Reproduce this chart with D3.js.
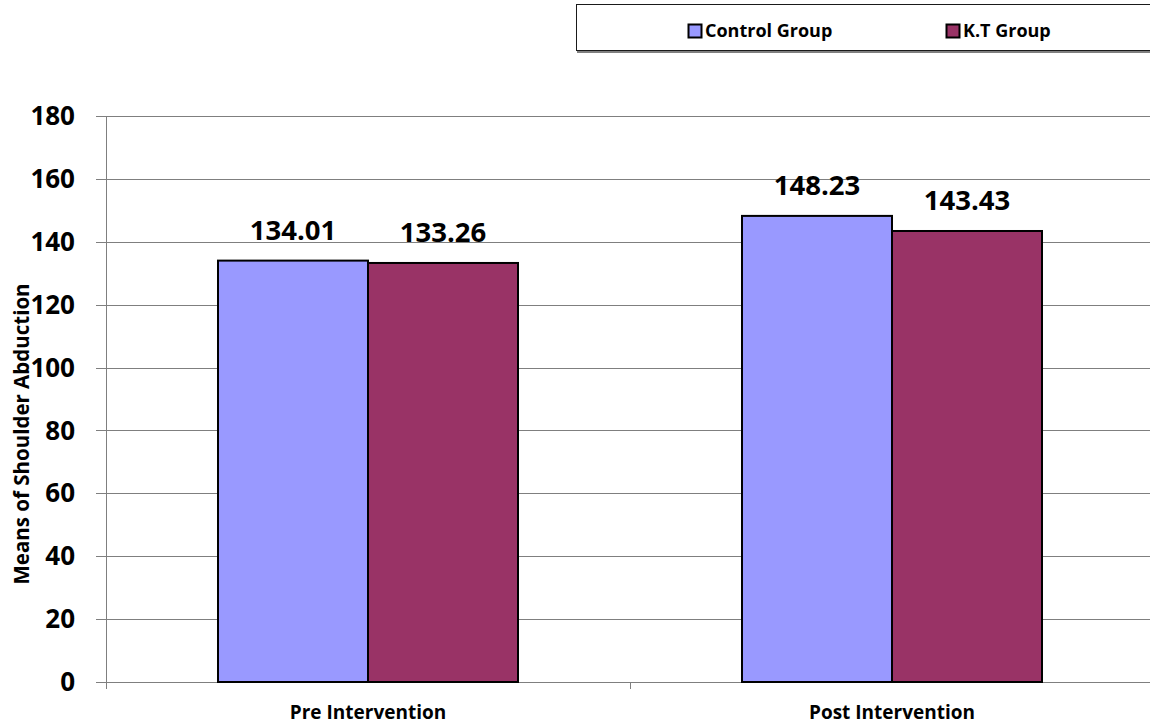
<!DOCTYPE html>
<html>
<head>
<meta charset="utf-8">
<script src="https://cdn.jsdelivr.net/npm/d3@7/dist/d3.min.js"></script>
<style>
  html, body { margin: 0; padding: 0; background: #fff; }
  svg { display: block; font-family: "Open Sans", "DejaVu Sans", sans-serif; }
</style>
</head>
<body>
<svg id="chart" width="1150" height="724"></svg>
<script>
// Data
const categories = ["Pre Intervention", "Post Intervention"];
const seriesNames = ["Control Group", "K.T Group"];
const controlValues = [134.01, 148.23];
const ktValues = [133.26, 143.43];
const yTicks = [0, 20, 40, 60, 80, 100, 120, 140, 160, 180];
const seriesColors = ["#9999FF", "#993366"];
const yTitle = "Means of Shoulder Abduction";

const svg = d3.select("#chart");

const plot = { left: 106, right: 1154, top: 116, bottom: 682 };

const x = d3.scaleBand().domain(categories).range([plot.left, plot.right]).paddingInner(0).paddingOuter(0);
const y = d3.scaleLinear().domain([0, 180]).range([plot.bottom, plot.top]);
const xSeries = d3.scaleBand().domain(seriesNames).range([0, 300]);

// Gridlines
svg.append("g")
  .selectAll("line")
  .data(yTicks)
  .join("line")
  .attr("x1", plot.left - 10)
  .attr("x2", 1150)
  .attr("y1", d => Math.round(y(d)) + 0.5)
  .attr("y2", d => Math.round(y(d)) + 0.5)
  .attr("stroke", "#7f7f7f")
  .attr("stroke-width", 1);

// Y axis line
svg.append("line")
  .attr("x1", plot.left + 0.5).attr("x2", plot.left + 0.5)
  .attr("y1", plot.top).attr("y2", plot.bottom + 7)
  .attr("stroke", "#7f7f7f").attr("stroke-width", 1);

// Category tick marks
svg.append("g")
  .selectAll("line")
  .data(categories.slice(1))
  .join("line")
  .attr("x1", d => Math.round(x(d)) + 0.5)
  .attr("x2", d => Math.round(x(d)) + 0.5)
  .attr("y1", plot.bottom)
  .attr("y2", plot.bottom + 7)
  .attr("stroke", "#7f7f7f");

// Y tick labels
svg.append("g")
  .selectAll("text")
  .data(yTicks)
  .join("text")
  .attr("x", 75)
  .attr("y", d => y(d))
  .attr("dy", "0.35em")
  .attr("text-anchor", "end")
  .attr("font-size", 26)
  .attr("font-weight", "bold")
  .attr("fill", "#000")
  .text(d => d);

// Bars
const rows = categories.map((c, i) => ({ cat: c, vals: [controlValues[i], ktValues[i]] }));
const groups = svg.append("g")
  .selectAll("g")
  .data(rows)
  .join("g")
  .attr("transform", d => `translate(${x(d.cat) + x.bandwidth() / 2 - 150},0)`);

groups.selectAll("rect")
  .data(d => d.vals.map((v, j) => ({ name: seriesNames[j], v, j })))
  .join("rect")
  .attr("x", d => xSeries(d.name))
  .attr("width", xSeries.bandwidth())
  .attr("y", d => y(d.v))
  .attr("height", d => y(0) - y(d.v))
  .attr("fill", d => seriesColors[d.j])
  .attr("stroke", "#000")
  .attr("stroke-width", 2);

// Value labels
groups.selectAll("text")
  .data(d => d.vals.map((v, j) => ({ name: seriesNames[j], v, j })))
  .join("text")
  .attr("x", d => xSeries(d.name) + xSeries.bandwidth() / 2)
  .attr("y", d => y(d.v) - 21)
  .attr("text-anchor", "middle")
  .attr("font-size", 27.5)
  .attr("font-weight", "bold")
  .attr("fill", "#000")
  .text(d => d.v.toFixed(2));

// Category labels
svg.append("g")
  .selectAll("text")
  .data(categories)
  .join("text")
  .attr("x", d => x(d) + x.bandwidth() / 2)
  .attr("y", 719)
  .attr("text-anchor", "middle")
  .attr("font-size", 19)
  .attr("font-weight", "bold")
  .attr("fill", "#000")
  .text(d => d);

// Y axis title
svg.append("text")
  .attr("transform", "translate(29,434) rotate(-90)")
  .attr("text-anchor", "middle")
  .attr("font-size", 20.5)
  .attr("font-weight", "bold")
  .attr("fill", "#000")
  .text(yTitle);

// Legend
const legend = svg.append("g");
legend.append("rect")
  .attr("x", 577).attr("y", 51)
  .attr("width", 580).attr("height", 2)
  .attr("fill", "#808080");
legend.append("rect")
  .attr("x", 576.5).attr("y", 4.5)
  .attr("width", 590).attr("height", 46)
  .attr("fill", "#fff")
  .attr("stroke", "#1a1a1a")
  .attr("stroke-width", 1);

const legendX = [688, 946];
const items = legend.selectAll("g.item")
  .data(seriesNames)
  .join("g")
  .attr("class", "item")
  .attr("transform", (d, i) => `translate(${legendX[i]},24)`);
items.append("rect")
  .attr("x", 0.5).attr("y", 0.5)
  .attr("width", 13).attr("height", 13)
  .attr("fill", (d, i) => seriesColors[i])
  .attr("stroke", "#000")
  .attr("stroke-width", 2);
items.append("text")
  .attr("x", 17)
  .attr("y", 7)
  .attr("dy", "0.35em")
  .attr("font-size", 18)
  .attr("font-weight", "bold")
  .attr("fill", "#000")
  .text(d => d);
</script>
</body>
</html>
